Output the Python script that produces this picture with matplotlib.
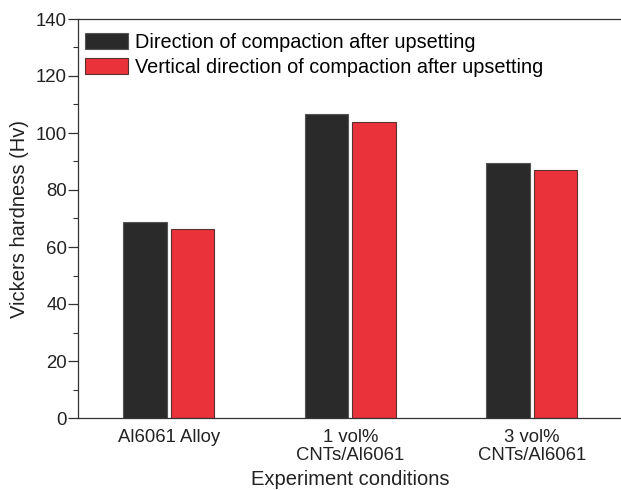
import matplotlib
matplotlib.use("Agg")
import matplotlib.pyplot as plt
import numpy as np
from matplotlib.ticker import MultipleLocator

plt.rcParams['font.family'] = ['Liberation Sans', 'DejaVu Sans']

categories = ["Al6061 Alloy", "1 vol%\nCNTs/Al6061", "3 vol%\nCNTs/Al6061"]
series_names = ["Direction of compaction after upsetting",
                "Vertical direction of compaction after upsetting"]
hardness_direction = [68.8, 106.5, 89.6]
hardness_vertical = [66.4, 104.0, 86.9]
yticks = [0, 20, 40, 60, 80, 100, 120, 140]

W, H = 621, 490
fig = plt.figure(figsize=(W / 100, H / 100), dpi=100)
ax = fig.add_axes([78 / W, (H - 418) / H, 544.5 / W, 399 / H])

x = np.arange(len(categories))
width = 0.239
gap = 0.022
off = (width + gap) / 2
ax.bar(x - off, hardness_direction, width, color='#2a2a2a', edgecolor='#555555',
       linewidth=0.8, label=series_names[0])
ax.bar(x + off, hardness_vertical, width, color='#e9323a', edgecolor='#5a3030',
       linewidth=0.8, label=series_names[1])

ax.set_xlim(-0.5, 2.5)
ax.set_ylim(0, 140)
ax.set_yticks(yticks)
ax.yaxis.set_minor_locator(MultipleLocator(10))
ax.set_xticks(x)
ax.set_xticklabels(categories, fontsize=13.3, color='#222222', linespacing=1.08)
ax.tick_params(axis='x', length=0, pad=8)
ax.tick_params(axis='y', which='major', length=7, width=0.9, direction='out',
               labelsize=13.4, colors='#333333', labelcolor='#222222', pad=1)
ax.tick_params(axis='y', which='minor', length=3.5, width=0.8, direction='out',
               colors='#333333')

for side in ['left', 'bottom', 'top']:
    ax.spines[side].set_color('#333333')
    ax.spines[side].set_linewidth(0.9)
ax.spines['right'].set_visible(False)

ax.set_ylabel("Vickers hardness (Hv)", fontsize=14.5, color='#222222', labelpad=5)
ax.set_xlabel("Experiment conditions", fontsize=14.5, color='#222222', labelpad=4)

ax.legend(loc='upper left', bbox_to_anchor=(0.0129, 0.966), frameon=False,
          fontsize=14.3, handlelength=2.16, handleheight=0.85, handletextpad=0.35,
          labelspacing=0.3, borderpad=0, borderaxespad=0)

fig.savefig("out.png", dpi=100)
